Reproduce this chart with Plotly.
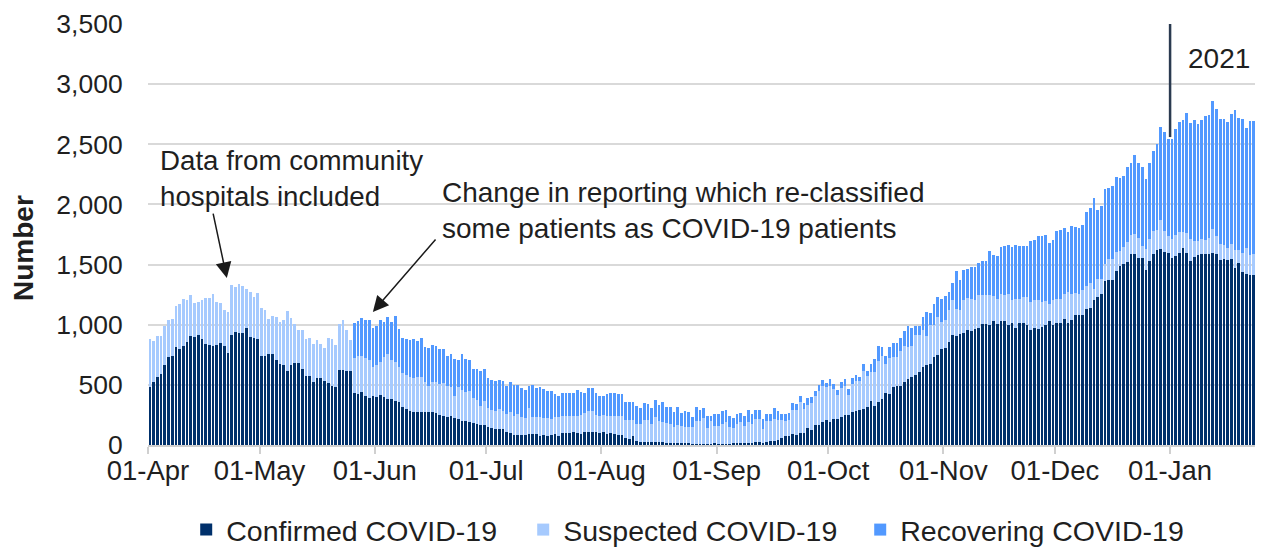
import pandas as pd
import plotly.graph_objects as go

# ---- data (daily, 01-Apr-2020 .. 25-Jan-2021) ----
start_date = "2020-04-01"
n_days = 300
dates = pd.date_range(start_date, periods=n_days, freq="D") + pd.Timedelta(hours=12)

confirmed = [
    486, 522, 564, 592, 664, 728, 736, 817, 797, 825,
    858, 908, 897, 917, 881, 839, 828, 822, 831, 850,
    825, 767, 917, 936, 928, 928, 970, 897, 886, 878,
    736, 736, 756, 756, 706, 675, 667, 614, 667, 681,
    683, 633, 572, 572, 522, 556, 556, 531, 514, 494,
    486, 625, 625, 617, 617, 431, 425, 439, 406, 392,
    411, 397, 419, 397, 383, 381, 369, 356, 314, 300,
    286, 272, 272, 272, 272, 272, 272, 264, 253, 244,
    236, 244, 225, 214, 203, 197, 189, 181, 172, 169,
    169, 147, 139, 131, 131, 131, 106, 97, 86, 86,
    81, 81, 92, 92, 92, 78, 86, 78, 86, 92,
    78, 97, 103, 103, 104, 96, 90, 104, 104, 104,
    104, 96, 104, 90, 96, 90, 82, 82, 55, 46,
    74, 33, 25, 25, 25, 25, 25, 25, 25, 14,
    14, 14, 14, 14, 14, 14, 8, 8, 8, 8,
    8, 8, 14, 5, 5, 5, 5, 14, 14, 14,
    14, 14, 14, 22, 22, 14, 22, 33, 33, 41,
    55, 74, 74, 90, 82, 101, 101, 142, 128, 164,
    169, 191, 205, 191, 213, 219, 232, 251, 251, 272,
    281, 292, 300, 319, 364, 328, 356, 383, 431, 425,
    481, 492, 494, 522, 550, 564, 578, 611, 647, 661,
    675, 731, 750, 794, 806, 856, 911, 903, 925, 933,
    953, 947, 967, 975, 1003, 1003, 994, 1028, 1008, 1028,
    1028, 1000, 1014, 975, 1017, 1017, 1000, 958, 975, 967,
    981, 1000, 1028, 1000, 1017, 1017, 1050, 1017, 1036, 1078,
    1078, 1083, 1128, 1142, 1208, 1231, 1258, 1361, 1370, 1370,
    1444, 1486, 1508, 1522, 1586, 1585, 1558, 1558, 1453, 1530,
    1585, 1619, 1627, 1608, 1594, 1558, 1572, 1599, 1635, 1594,
    1530, 1563, 1577, 1585, 1585, 1585, 1597, 1585, 1536, 1550,
    1536, 1550, 1475, 1516, 1442, 1420, 1414, 1414, 1386, 1364,
]

suspected = [
    392, 339, 342, 314, 322, 308, 314, 336, 373, 392,
    350, 342, 286, 272, 327, 381, 392, 431, 361, 331,
    294, 341, 414, 375, 414, 392, 330, 373, 342, 383,
    406, 383, 294, 314, 358, 345, 375, 497, 391, 327,
    275, 325, 306, 314, 314, 316, 286, 277, 372, 384,
    347, 383, 414, 341, 258, 291, 314, 303, 319, 311,
    236, 264, 270, 334, 375, 327, 320, 291, 283, 286,
    278, 286, 297, 292, 250, 222, 250, 258, 255, 270,
    258, 242, 186, 272, 255, 247, 264, 211, 203, 159,
    200, 161, 155, 155, 169, 155, 152, 175, 158, 172,
    150, 144, 216, 139, 139, 158, 139, 147, 131, 144,
    153, 147, 141, 141, 134, 142, 156, 161, 175, 175,
    142, 144, 142, 148, 142, 148, 156, 156, 150, 159,
    131, 139, 147, 180, 180, 147, 207, 174, 166, 169,
    164, 136, 155, 142, 136, 136, 142, 191, 191, 219,
    137, 191, 144, 153, 173, 186, 145, 131, 164, 177,
    142, 177, 158, 197, 197, 123, 177, 166, 186, 169,
    150, 125, 136, 202, 210, 254, 200, 194, 219, 246,
    282, 301, 279, 301, 251, 196, 246, 241, 164, 236,
    255, 236, 319, 253, 242, 278, 339, 361, 244, 300,
    250, 239, 287, 297, 264, 261, 333, 300, 306, 242,
    319, 263, 314, 228, 230, 264, 292, 230, 195, 270,
    269, 264, 236, 270, 242, 242, 251, 211, 209, 225,
    217, 258, 194, 242, 200, 214, 231, 231, 228, 241,
    208, 197, 147, 208, 194, 200, 208, 255, 222, 186,
    180, 209, 194, 208, 90, 147, 120, 147, 180, 180,
    162, 125, 139, 167, 159, 167, 166, 97, 174, 180,
    194, 166, 241, 171, 144, 152, 171, 172, 136, 171,
    180, 133, 119, 131, 117, 133, 196, 153, 133, 110,
    105, 124, 144, 103, 157, 221, 166, 171, 172, 194,
]

recovering = [0] * 55 + [
    295, 292, 316, 311, 333,
    328, 328, 347, 291, 306, 314, 386, 317, 292, 297,
    305, 325, 295, 325, 292, 314, 306, 297, 286, 280,
    250, 272, 306, 222, 300, 267, 250, 241, 258, 286,
    264, 250, 250, 245, 242, 245, 236, 250, 256, 242,
    244, 233, 186, 269, 244, 245, 242, 222, 230, 189,
    180, 187, 187, 187, 191, 221, 191, 167, 194, 194,
    183, 170, 164, 185, 194, 194, 185, 185, 156, 150,
    150, 156, 137, 145, 137, 137, 145, 137, 170, 137,
    142, 123, 145, 112, 129, 123, 82, 121, 88, 82,
    95, 39, 102, 102, 103, 101, 90, 82, 82, 79,
    82, 101, 82, 73, 73, 82, 61, 61, 90, 71,
    55, 61, 55, 55, 50, 49, 51, 55, 49, 41,
    46, 46, 35, 54, 41, 41, 49, 54, 49, 48,
    42, 41, 56, 47, 69, 111, 130, 70, 69, 89,
    116, 116, 111, 128, 172, 147, 81, 81, 111, 203,
    106, 181, 167, 195, 203, 152, 144, 314, 250, 255,
    245, 270, 278, 272, 286, 286, 369, 344, 355, 389,
    408, 403, 434, 444, 436, 422, 422, 506, 500, 528,
    547, 548, 508, 495, 567, 569, 548, 495, 564, 550,
    550, 541, 617, 617, 752, 575, 608, 620, 589, 606,
    625, 606, 592, 619, 597, 658, 622, 658, 581, 631,
    664, 719, 774, 822, 810, 838, 886, 913, 927, 996,
    968, 1002, 969, 990, 1032, 1024, 1071, 1057, 1043, 1052,
    1046, 1074, 1162, 1101, 1113, 996, 1112, 1107, 1107, 1120,
]

series_names = ["Confirmed COVID-19", "Suspected COVID-19", "Recovering COVID-19"]
series_colors = ["#00306B", "#A6CAFE", "#5299FF"]

year_marker_date = "2021-01-01"
year_marker_from = 2560
year_marker_to = 3500
year_label = "2021"

note1 = "Data from community<br>hospitals included"
note1_target = ("2020-04-22 05:00", 1388)
note2 = "Change in reporting which re-classified<br>some patients as COVID-19 patients"
note2_target = ("2020-05-31 12:00", 1106)

FONT = "Liberation Sans, Arial, sans-serif"
TXT = "#1F1F1F"

fig = go.Figure()
for name, vals, col in zip(series_names, [confirmed, suspected, recovering], series_colors):
    fig.add_trace(go.Bar(x=dates, y=vals, name=name, marker=dict(color=col, line=dict(width=0))))

fig.add_shape(type="line", xref="x", yref="y",
              x0=year_marker_date, x1=year_marker_date,
              y0=year_marker_from, y1=year_marker_to,
              line=dict(color="#2A3A50", width=2.5))

fig.add_annotation(x=year_marker_date, y=3217, xref="x", yref="y", text=year_label,
                   showarrow=False, xanchor="left", yanchor="middle", xshift=16,
                   font=dict(size=28, color=TXT, family=FONT))

fig.add_annotation(x=0.009, y=0.634, xref="paper", yref="paper", text=note1,
                   showarrow=False, xanchor="left", yanchor="middle", align="left",
                   font=dict(size=27.7, color=TXT, family=FONT))
fig.add_annotation(x=0.262, y=0.558, xref="paper", yref="paper", text=note2,
                   showarrow=False, xanchor="left", yanchor="middle", align="left",
                   font=dict(size=28, color=TXT, family=FONT))

for (tx, ty), ax, ay in [(note1_target, -14, -66), (note2_target, 64, -74)]:
    fig.add_annotation(x=tx, y=ty, xref="x", yref="y", text="", showarrow=True,
                       ax=ax, ay=ay, arrowhead=2, arrowsize=2.1, arrowwidth=1.5,
                       arrowcolor="#1A1A1A", standoff=0)

fig.add_annotation(x=0, y=0.468, xref="paper", yref="paper", text="<b>Number</b>",
                   textangle=-90, showarrow=False, xanchor="center", yanchor="middle",
                   xshift=-124, font=dict(size=28, color=TXT, family=FONT))

# The page body adds an 8px offset, so the figure is 8px smaller on each side.
fig.update_layout(
    width=1255, height=541,
    margin=dict(l=140, r=0, t=16, b=104, autoexpand=False),
    paper_bgcolor="white", plot_bgcolor="white",
    barmode="stack", bargap=0.27,
    font=dict(family=FONT, size=26, color=TXT),
    showlegend=True,
    legend=dict(orientation="h", xref="container", yref="container",
                x=0.142, xanchor="left", y=0.035, yanchor="middle",
                font=dict(size=28.5, color=TXT, family=FONT), itemwidth=30,
                entrywidth=292, entrywidthmode="pixels",
                traceorder="normal"),
    xaxis=dict(type="date", range=["2020-04-01", "2021-01-26"], automargin=False,
               tick0="2020-04-01", dtick="M1", tickformat="%d-%b",
               ticks="outside", ticklen=7, tickcolor="#D0D0D0", tickwidth=1.5,
               ticklabelstandoff=-7,
               showline=True, linecolor="#D0D0D0", linewidth=1.5,
               showgrid=False, zeroline=False,
               tickfont=dict(size=27.5, color=TXT, family=FONT)),
    yaxis=dict(range=[0, 3500], tick0=0, dtick=500, tickformat=",d", automargin=False,
               showgrid=True, gridcolor="#D9D9D9", gridwidth=1.5,
               zeroline=False, showline=False,
               ticks="outside", ticklen=19, tickcolor="rgba(0,0,0,0)",
               tickfont=dict(size=26.5, color=TXT, family=FONT)),
)

fig.write_html("out.html")
